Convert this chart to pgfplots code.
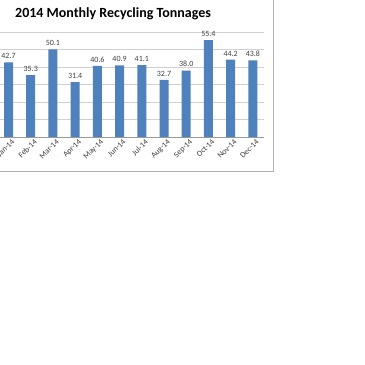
\documentclass[border=0pt]{standalone}
\usepackage{pgfplots}
\pgfplotsset{compat=1.18}
\usepackage{fontspec}
\setmainfont{Carlito}
\definecolor{barblue}{HTML}{4F81BD}
\definecolor{gridgray}{HTML}{D0D0D0}
\definecolor{labgray}{HTML}{404040}
\begin{document}
\begin{tikzpicture}[x=1pt,y=1pt]
\path[use as bounding box, clip] (0,0) rectangle (365,365);
\fill[white] (0,0) rectangle (365,365);
\draw[color=black!30, line width=0.8pt] (-60,194) rectangle (273.5,380);
\node[font=\bfseries\fontsize{14}{16}\selectfont, text=black] at (113,351) {2014 Monthly Recycling Tonnages};
\begin{axis}[
  scale only axis,
  width=266.6pt, height=105pt,
  at={(-2.6pt,228pt)}, anchor=south west,
  xmin=-0.5, xmax=11.5, ymin=0, ymax=60,
  ytick={0,10,...,60}, yticklabels={},
  ymajorgrids, grid style={gridgray, line width=0.6pt},
  axis x line*=bottom, axis y line*=left,
  axis line style={black!40, line width=0.6pt},
  major tick length=0pt,
  xtick=data,
  xticklabels={Jan-14,Feb-14,Mar-14,Apr-14,May-14,Jun-14,Jul-14,Aug-14,Sep-14,Oct-14,Nov-14,Dec-14},
  x tick label style={rotate=45, anchor=north east, font=\fontsize{8}{9}\selectfont, text=labgray, xshift=2pt, yshift=-2pt, inner sep=1pt},
  ybar, bar width=9pt,
  nodes near coords,
  nodes near coords style={font=\fontsize{8}{9}\selectfont, text=labgray},
  /pgf/number format/.cd, fixed, fixed zerofill, precision=1, assume math mode=true,
]
\addplot[fill=barblue, draw=none] coordinates {
(0,42.7) (1,35.3) (2,50.1) (3,31.4) (4,40.6) (5,40.9)
(6,41.1) (7,32.7) (8,38.0) (9,55.4) (10,44.2) (11,43.8)};
\end{axis}
\end{tikzpicture}
\end{document}
